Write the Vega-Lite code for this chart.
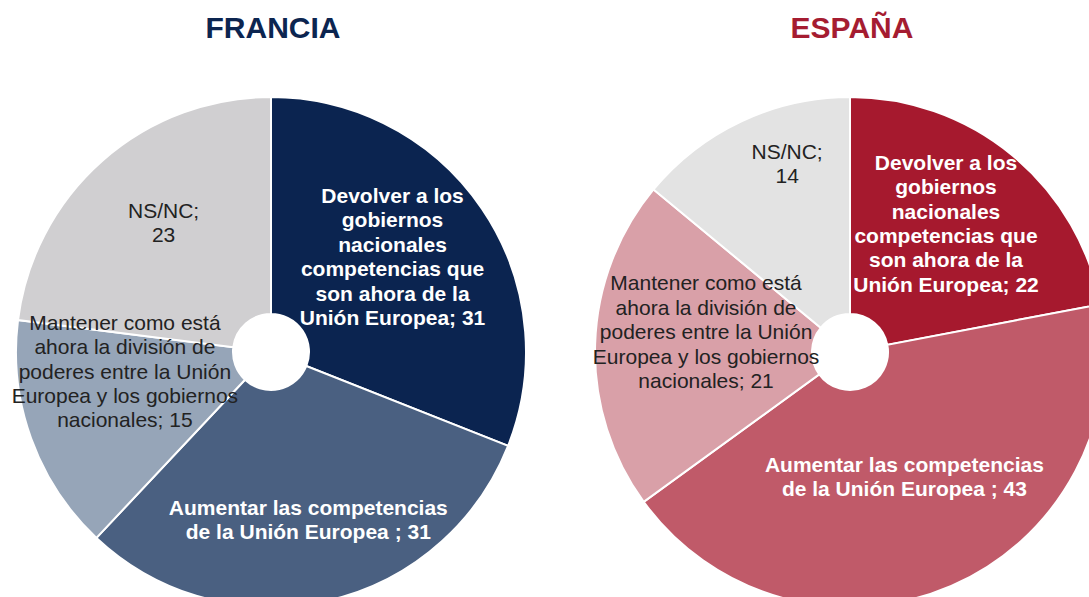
{
  "$schema": "https://vega.github.io/schema/vega-lite/v6.json",
  "padding": {"top": 14, "left": 0, "right": 0, "bottom": 0},
  "spacing": 37,
  "background": "white",
  "config": {"view": {"stroke": null}, "font": "Liberation Sans"},
  "datasets": {
    "francia": [
      {"orden": 1, "cat": "Devolver a los gobiernos nacionales competencias que son ahora de la Unión Europea", "valor": 31, "etiqueta": "Devolver a los\ngobiernos\nnacionales\ncompetencias  que\nson ahora de la\nUnión Europea; 31"},
      {"orden": 2, "cat": "Aumentar las competencias de la Unión Europea", "valor": 31, "etiqueta": "Aumentar las competencias\nde la Unión Europea ; 31"},
      {"orden": 3, "cat": "Mantener como está ahora la división de poderes entre la Unión Europea y los gobiernos nacionales", "valor": 15, "etiqueta": "Mantener  como está\nahora la división de\npoderes entre la Unión\nEuropea y los gobiernos\nnacionales; 15"},
      {"orden": 4, "cat": "NS/NC", "valor": 23, "etiqueta": "NS/NC;\n23"}
    ],
    "espana": [
      {"orden": 1, "cat": "Devolver a los gobiernos nacionales competencias que son ahora de la Unión Europea", "valor": 22, "etiqueta": "Devolver a los\ngobiernos\nnacionales\ncompetencias  que\nson ahora de la\nUnión Europea; 22"},
      {"orden": 2, "cat": "Aumentar las competencias de la Unión Europea", "valor": 43, "etiqueta": "Aumentar las competencias\nde la Unión Europea ; 43"},
      {"orden": 3, "cat": "Mantener como está ahora la división de poderes entre la Unión Europea y los gobiernos nacionales", "valor": 21, "etiqueta": "Mantener  como está\nahora la división de\npoderes entre la Unión\nEuropea y los gobiernos\nnacionales; 21"},
      {"orden": 4, "cat": "NS/NC", "valor": 14, "etiqueta": "NS/NC;\n14"}
    ]
  },
  "hconcat": [
    {
      "title": {"text": "FRANCIA", "color": "#0c2550", "font": "Liberation Sans", "fontSize": 30, "fontWeight": "bold", "anchor": "middle", "offset": 49, "dx": 2},
      "width": 542,
      "height": 510,
      "data": {"name": "francia"},
      "encoding": {
        "theta": {"field": "valor", "type": "quantitative", "stack": true},
        "order": {"field": "orden", "type": "ordinal"}
      },
      "layer": [
        {
          "mark": {"type": "arc", "outerRadius": 255, "innerRadius": 38, "stroke": "white", "strokeWidth": 2},
          "encoding": {
            "color": {"field": "cat", "type": "nominal", "legend": null,
              "scale": {"domain": ["Devolver a los gobiernos nacionales competencias que son ahora de la Unión Europea", "Aumentar las competencias de la Unión Europea", "Mantener como está ahora la división de poderes entre la Unión Europea y los gobiernos nacionales", "NS/NC"],
                        "range": ["#0b2450", "#4a6081", "#96a5b8", "#d0cfd1"]}}
          }
        },
        {
          "mark": {"type": "text", "lineBreak": "\n", "fontSize": 21, "lineHeight": 24.4, "align": "center", "baseline": "middle",
            "radius": {"expr": "datum.orden == 1 ? 153 : datum.orden == 2 ? 171 : datum.orden == 3 ? 150 : 167"},
            "dx": {"expr": "datum.orden == 1 ? -5 : datum.orden == 3 ? -5 : datum.orden == 4 ? 3 : 0"},
            "dy": {"expr": "datum.orden == 1 ? -69 : datum.orden == 2 ? -10 : datum.orden == 3 ? -79 : -15"},
            "fontWeight": {"expr": "datum.orden <= 2 ? 'bold' : 'normal'"}},
          "encoding": {
            "text": {"field": "etiqueta", "type": "nominal"},
            "color": {"condition": {"test": "datum.orden <= 2", "value": "white"}, "value": "#222222"}
          }
        }
      ]
    },
    {
      "title": {"text": "ESPAÑA", "color": "#a51c31", "font": "Liberation Sans", "fontSize": 30, "fontWeight": "bold", "anchor": "middle", "offset": 49, "dx": 2},
      "width": 542,
      "height": 510,
      "data": {"name": "espana"},
      "encoding": {
        "theta": {"field": "valor", "type": "quantitative", "stack": true},
        "order": {"field": "orden", "type": "ordinal"}
      },
      "layer": [
        {
          "mark": {"type": "arc", "outerRadius": 255, "innerRadius": 38, "stroke": "white", "strokeWidth": 2},
          "encoding": {
            "color": {"field": "cat", "type": "nominal", "legend": null,
              "scale": {"domain": ["Devolver a los gobiernos nacionales competencias que son ahora de la Unión Europea", "Aumentar las competencias de la Unión Europea", "Mantener como está ahora la división de poderes entre la Unión Europea y los gobiernos nacionales", "NS/NC"],
                        "range": ["#a6192e", "#c05a69", "#d9a0a8", "#e3e3e3"]}}
          }
        },
        {
          "mark": {"type": "text", "lineBreak": "\n", "fontSize": 21, "lineHeight": 24.4, "align": "center", "baseline": "middle",
            "radius": {"expr": "datum.orden == 1 ? 160 : datum.orden == 2 ? 137 : datum.orden == 3 ? 144 : 197"},
            "dx": {"expr": "datum.orden == 1 ? -6 : datum.orden == 4 ? 21 : 0"},
            "dy": {"expr": "datum.orden == 1 ? -65 : datum.orden == 2 ? -12 : datum.orden == 3 ? -63 : -21"},
            "fontWeight": {"expr": "datum.orden <= 2 ? 'bold' : 'normal'"}},
          "encoding": {
            "text": {"field": "etiqueta", "type": "nominal"},
            "color": {"condition": {"test": "datum.orden <= 2", "value": "white"}, "value": "#222222"}
          }
        }
      ]
    }
  ],
  "resolve": {"scale": {"color": "independent", "theta": "independent"}}
}
